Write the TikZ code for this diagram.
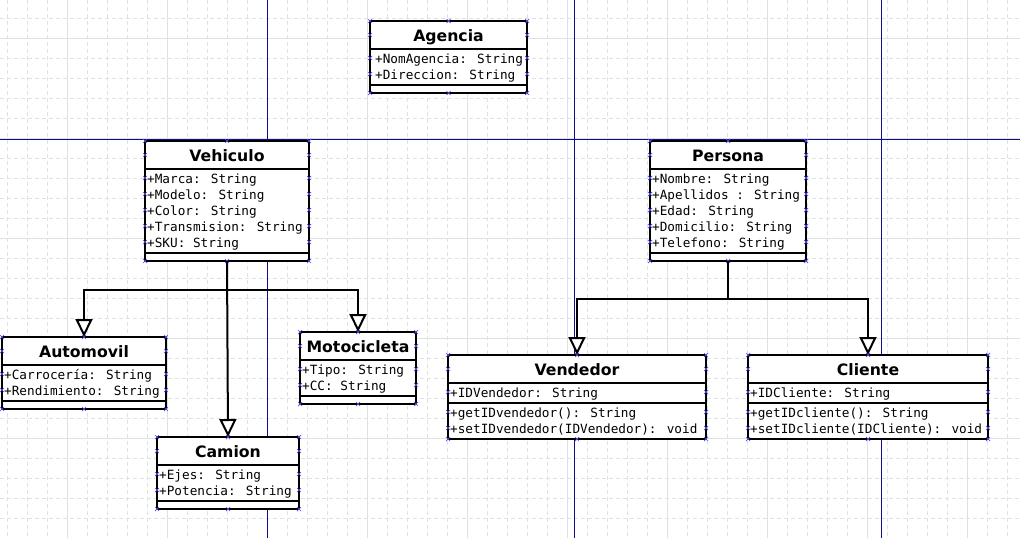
\documentclass[tikz,border=0pt]{standalone}
\usepackage{fontspec}
\setmainfont{DejaVu Sans}
\newfontfamily\umlmono{DejaVu Sans Mono}
\usetikzlibrary{arrows.meta}

\definecolor{gridgray}{RGB}{220,227,227}
\definecolor{guide}{RGB}{14,14,140}
\definecolor{cpblue}{RGB}{80,80,235}

\tikzset{
  classframe/.style={draw=black, fill=white, line width=2.4pt, inner sep=0pt, outer sep=0pt},
  compline/.style={draw=black, line width=2.4pt},
  classtitle/.style={inner sep=0pt, anchor=base, font=\fontsize{15.7}{16}\selectfont\bfseries},
  member/.style={inner sep=0pt, anchor=base west, font=\umlmono\fontsize{12.7}{13}\selectfont},
  cpmark/.style={draw=cpblue, line width=0.7pt},
  genline/.style={draw=black, line width=2pt},
  gen/.style={genline, -{Triangle[fill=white, length=18pt, width=17pt]}},
  gridminor/.style={draw=gridgray, line width=1pt, dash pattern=on 4pt off 3pt},
  gridmajor/.style={draw=gridgray, line width=1pt},
  guideline/.style={draw=guide, line width=1pt},
}

% small connection-point cross
\newcommand\cpmk[2]{\draw[cpmark] (#1,#2) ++(-2,-2) -- ++(4,4) ++(-4,0) -- ++(4,-4);}

% left padding of member text
\def\pad{2}

% #1 name, #2 left, #3 right, #4 top, #5 attribute count, #6 operation count,
% #7 title, #8 attributes, #9 operations
\newcommand\umlclass[9]{%
  \pgfmathsetmacro\cL{#2}%
  \pgfmathsetmacro\cR{#3}%
  \pgfmathsetmacro\cT{#4}%
  \pgfmathsetmacro\cM{(#2+#3)/2}%
  \pgfmathsetmacro\sA{#4+28}%
  \pgfmathsetmacro\sB{#4+28+16*#5+4}%
  \pgfmathsetmacro\cB{#6==0 ? \sB+8 : \sB+16*#6+4}%
  \pgfmathsetmacro\cW{#3-#2}%
  \pgfmathsetmacro\cH{\cB-#4}%
  \node[classframe, minimum width=\cW pt, minimum height=\cH pt, anchor=north west] (#1) at (\cL,\cT) {};
  \draw[compline] (\cL,\sA) -- (\cR,\sA);
  \draw[compline] (\cL,\sB) -- (\cR,\sB);
  \node[classtitle] (#1-title) at (\cM,\cT+20) {#7};
  \foreach \txt [count=\k from 0] in {#8} {
    \node[member] (#1-a\k) at (\cL+\pad,\sA+14+16*\k) {\txt};
    \cpmk{\cL}{\sA+9+16*\k}
    \cpmk{\cR}{\sA+9+16*\k}
  }
  \ifnum#6>0
  \foreach \txt [count=\k from 0] in {#9} {
    \node[member] (#1-o\k) at (\cL+\pad,\sB+14+16*\k) {\txt};
    \cpmk{\cL}{\sB+9+16*\k}
    \cpmk{\cR}{\sB+9+16*\k}
  }
  \fi
  \cpmk{\cL}{\cT} \cpmk{\cM}{\cT} \cpmk{\cR}{\cT}
  \cpmk{\cL}{\cT+14} \cpmk{\cR}{\cT+14}
  \cpmk{\cL}{\cB} \cpmk{\cM}{\cB} \cpmk{\cR}{\cB}
}

\begin{document}
\begin{tikzpicture}[x=1pt, y=-1pt]
  \useasboundingbox (0,0) rectangle (1020,538);
  \fill[white] (0,0) rectangle (1020,538);

  % background grid
  \foreach \gx in {7,27,...,1007} \draw[gridminor] (\gx,0) -- (\gx,538);
  \foreach \gy in {18,38,...,538} \draw[gridminor] (0,\gy) -- (1020,\gy);
  \foreach \gx in {67,167,...,967} \draw[gridmajor] (\gx,0) -- (\gx,538);
  \foreach \gy in {38,138,...,538} \draw[gridmajor] (0,\gy) -- (1020,\gy);

  % guide lines
  \draw[guideline] (0,139) -- (1020,139);
  \draw[guideline] (267,0) -- (267,538);
  \draw[guideline] (574,0) -- (574,538);
  \draw[guideline] (881,0) -- (881,538);

  % classes
  \def\pad{5}
  \umlclass{agencia}{370}{527}{21}{2}{0}{Agencia}{+NomAgencia: String, +Direccion: String}{}
  \def\pad{2}
  \umlclass{veh}{145}{309}{141}{5}{0}{Vehiculo}{+Marca: String, +Modelo: String, +Color: String, +Transmision: String, +SKU: String}{}
  \umlclass{per}{650}{806}{141}{5}{0}{Persona}{+Nombre: String, +Apellidos : String, +Edad: String, +Domicilio: String, +Telefono: String}{}
  \umlclass{auto}{2}{166}{337}{2}{0}{Automovil}{+Carrocería: String, +Rendimiento: String}{}
  \umlclass{moto}{300}{416}{332}{2}{0}{Motocicleta}{+Tipo: String, +CC: String}{}
  \umlclass{cam}{157}{299}{437}{2}{0}{Camion}{+Ejes: String, +Potencia: String}{}
  \umlclass{vend}{448}{706}{355}{1}{2}{Vendedor}{+IDVendedor: String}{+getIDvendedor(): String, +setIDvendedor(IDVendedor): void}
  \umlclass{cli}{748}{988}{355}{1}{2}{Cliente}{+IDCliente: String}{+getIDcliente(): String, +setIDcliente(IDCliente): void}

  % generalizations
  \path (veh.south) ++(0,29) coordinate (vj);
  \draw[genline] (veh.south) -- (vj);
  \draw[gen] (vj) -| (auto.north);
  \draw[gen] (vj) -| (moto.north);
  \draw[gen] (veh.south) -- (cam.north);

  \path (per.south) ++(0,38) coordinate (pj);
  \draw[genline] (per.south) -- (pj);
  \draw[gen] (pj) -| (vend.north);
  \draw[gen] (pj) -| (cli.north);
\end{tikzpicture}
\end{document}
